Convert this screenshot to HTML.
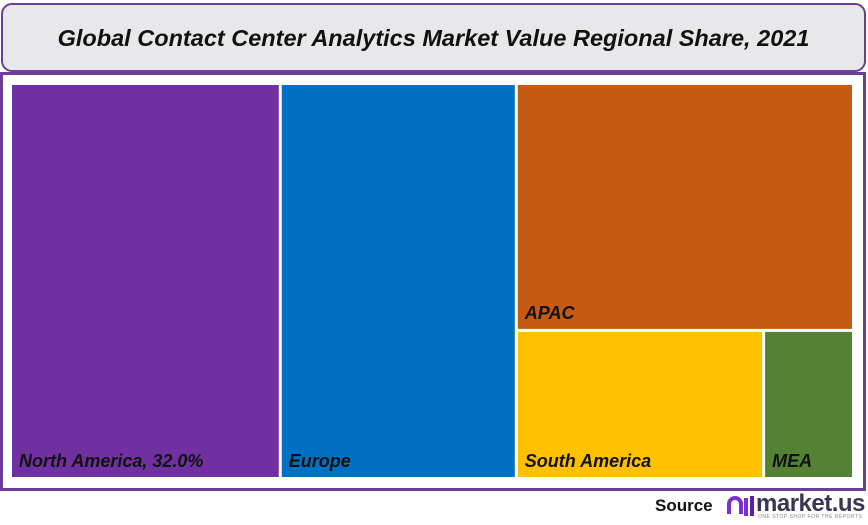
<!DOCTYPE html>
<html><head><meta charset="utf-8"><style>
html,body{margin:0;padding:0;background:#fff;width:868px;height:525px;overflow:hidden;font-family:"Liberation Sans",sans-serif}
#title-box{position:absolute;left:1px;top:3px;width:861px;height:65px;background:#e8e7ea;border:2px solid #6b3f99;border-radius:11px;box-sizing:content-box}
#title{position:absolute;left:0;right:0;top:20px;text-align:center;font-size:23.5px;font-weight:bold;font-style:italic;color:#111}
#chart-box{position:absolute;left:0px;top:72px;width:860px;height:413px;border:3px solid #6b3f99;background:#fff}
svg{position:absolute;left:0;top:0}
#source{position:absolute;left:655px;top:496px;font-size:17px;font-weight:bold;color:#111}
#logo{position:absolute;left:726px;top:492px}
#logo-text{position:absolute;left:756px;top:490px;font-size:24px;font-weight:bold;color:#3a3550;letter-spacing:-0.5px}
#tag{position:absolute;left:758px;top:514px;font-size:5px;color:#888;letter-spacing:0.5px}
</style></head><body>
<div id="title-box"><div id="title">Global Contact Center Analytics Market Value Regional Share, 2021</div></div>
<div id="chart-box"></div>
<svg id="tm" width="868" height="525"></svg>
<div id="source">Source</div>
<svg id="logo" width="28" height="28">
<path d="M3 22 V12 a6 6 0 0 1 12 0 V22" stroke="#7b2fd0" stroke-width="4" fill="none"/>
<rect x="18" y="6" width="4" height="18" fill="#7b2fd0"/><rect x="24" y="4" width="4" height="20" fill="#5b1fb0"/>
</svg>
<div id="logo-text">market.us</div>
<div id="tag">ONE STOP SHOP FOR THE REPORTS</div>
<script>
const regions=["North America","Europe","APAC","South America","MEA"];
const shares=[32.0,28.0,25.0,11.0,4.0];
const labels=["North America, 32.0%","Europe","APAC","South America","MEA"];
const colors=["#7030a0","#0070c0","#c55a11","#ffc000","#548235"];
const X0=12,Y0=85,W=843,H=395,G=3;
const svg=document.getElementById('tm');const NS="http://www.w3.org/2000/svg";
const total=shares.reduce((a,b)=>a+b,0);
function rect(i,x,y,w,h){
 const r=document.createElementNS(NS,'rect');
 r.setAttribute('x',x);r.setAttribute('y',y);r.setAttribute('width',Math.max(0,w-G));r.setAttribute('height',Math.max(0,h-G));r.setAttribute('fill',colors[i]);
 
 
 svg.appendChild(r);
 const t=document.createElementNS(NS,'text');
 t.setAttribute('x',x+7);t.setAttribute('y',y+h-G-10);
 t.setAttribute('font-size','18');t.setAttribute('font-weight','bold');t.setAttribute('font-style','italic');t.setAttribute('fill','#111');
 t.setAttribute('font-family','Liberation Sans, sans-serif');
 t.textContent=labels[i];
 
 
 svg.appendChild(t);
}
let x=X0;
for(let i=0;i<2;i++){const w=W*shares[i]/total;rect(i,x,Y0,w,H);x+=w;}
const rest=shares[2]+shares[3]+shares[4];const rw=W*rest/total;
const ah=H*shares[2]/rest;rect(2,x,Y0,rw,ah);
const bh=H-ah;const sub=shares[3]+shares[4];let sx=x;
for(let i=3;i<5;i++){const w=rw*shares[i]/sub;rect(i,sx,Y0+ah,w,bh);sx+=w;}
</script>
</body></html>
